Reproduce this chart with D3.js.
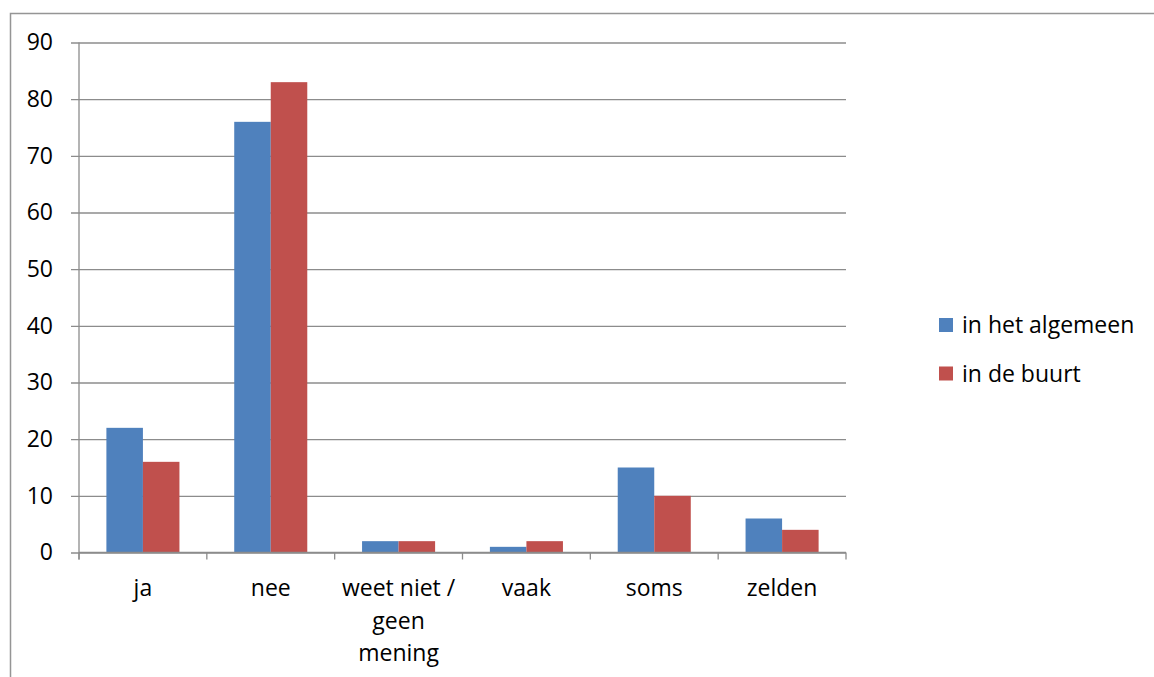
<!DOCTYPE html>
<html>
<head>
<meta charset="utf-8">
<script src="https://cdn.jsdelivr.net/npm/d3@7"></script>
<style>
  body { margin: 0; background: #fff; }
  svg text { font-family: "Open Sans", "Liberation Sans", sans-serif; fill: #000; }
</style>
</head>
<body>
<svg id="chart" width="1154" height="677"></svg>
<script>
// Data
const categories = ["ja", "nee", "weet niet / geen mening", "vaak", "soms", "zelden"];
const categoryLines = [["ja"], ["nee"], ["weet niet /", "geen", "mening"], ["vaak"], ["soms"], ["zelden"]];
const seriesNames = ["in het algemeen", "in de buurt"];
const algemeen = [22, 76, 2, 1, 15, 6];
const buurt = [16, 83, 2, 2, 10, 4];
const yTicks = [0, 10, 20, 30, 40, 50, 60, 70, 80, 90];
const colors = ["#4F81BD", "#C0504D"];

const fontSize = "23px";
const svg = d3.select("#chart");

// outer chart border (cropped at right/bottom)
svg.append("rect")
    .attr("x", 10.5).attr("y", 13.5)
    .attr("width", 1200).attr("height", 700)
    .attr("fill", "none")
    .attr("stroke", "#959595")
    .attr("stroke-width", 1.5);

// plot area
const plot = { left: 79, right: 846, top: 42.5, bottom: 552.5 };
const width = plot.right - plot.left;

const x0 = d3.scaleBand().domain(categories).range([plot.left, plot.right]).paddingInner(0).paddingOuter(0);
const x1 = d3.scaleBand().domain(seriesNames).range([0, x0.bandwidth()]).paddingInner(0).paddingOuter(0.75);
const y = d3.scaleLinear().domain([0, 90]).range([plot.bottom, plot.top]);

// gridlines, extended left past the axis like tick marks
const grid = svg.append("g")
    .attr("transform", `translate(${plot.right},0)`)
    .call(d3.axisLeft(y).tickValues(yTicks).tickSize(width + 8).tickFormat(""));
grid.select(".domain").remove();
grid.selectAll("line").attr("stroke", "#8c8c8c").attr("stroke-width", 1.3);

// y axis labels
const yAxis = svg.append("g")
    .attr("transform", `translate(${plot.left},0)`)
    .call(d3.axisLeft(y).tickValues(yTicks).tickSize(0).tickPadding(26));
yAxis.select(".domain").remove();
yAxis.selectAll("text").style("font-size", fontSize);

// vertical axis line
svg.append("line")
    .attr("x1", plot.left).attr("x2", plot.left)
    .attr("y1", plot.top).attr("y2", plot.bottom + 7)
    .attr("stroke", "#8c8c8c").attr("stroke-width", 1.3);

// bars
const rows = categories.map((c, i) => ({ cat: c, vals: [algemeen[i], buurt[i]] }));
const groups = svg.append("g").selectAll("g")
    .data(rows)
    .join("g")
    .attr("transform", d => `translate(${x0(d.cat)},0)`);

groups.selectAll("rect")
    .data(d => d.vals.map((v, k) => ({ key: seriesNames[k], value: v, k })))
    .join("rect")
    .attr("x", d => x1(d.key))
    .attr("y", d => y(d.value))
    .attr("width", x1.bandwidth())
    .attr("height", d => y(0) - y(d.value))
    .attr("fill", d => colors[d.k]);

// x axis line and boundary ticks
svg.append("line")
    .attr("x1", plot.left).attr("x2", plot.right)
    .attr("y1", plot.bottom).attr("y2", plot.bottom)
    .attr("stroke", "#8c8c8c").attr("stroke-width", 1.3);

const boundaries = categories.map(c => x0(c)).concat([plot.right]);
svg.append("g").selectAll("line")
    .data(boundaries)
    .join("line")
    .attr("x1", d => d).attr("x2", d => d)
    .attr("y1", plot.bottom).attr("y2", plot.bottom + 7)
    .attr("stroke", "#8c8c8c").attr("stroke-width", 1.3);

// category labels
const xLabels = svg.append("g").selectAll("text")
    .data(categories)
    .join("text")
    .attr("text-anchor", "middle")
    .style("font-size", fontSize)
    .attr("transform", d => `translate(${x0(d) + x0.bandwidth() / 2},596)`);

xLabels.selectAll("tspan")
    .data((d, i) => categoryLines[i])
    .join("tspan")
    .attr("x", 0)
    .attr("y", (d, i) => i * 32.5)
    .text(d => d);

// legend
const legend = svg.append("g").selectAll("g")
    .data(seriesNames)
    .join("g")
    .attr("transform", (d, i) => `translate(939,${318 + i * 48.5})`);

legend.append("rect")
    .attr("width", 14).attr("height", 14)
    .attr("fill", (d, i) => colors[i]);

legend.append("text")
    .attr("x", 23).attr("y", 15)
    .style("font-size", fontSize)
    .text(d => d);
</script>
</body>
</html>
